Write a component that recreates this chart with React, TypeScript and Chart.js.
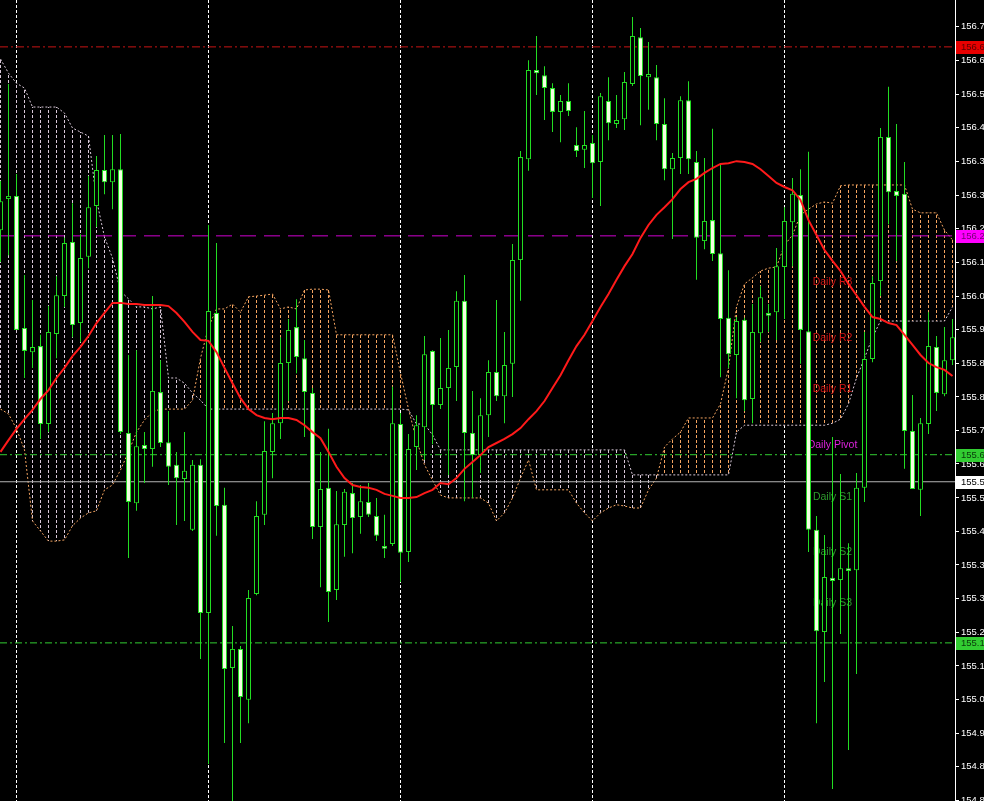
import { useEffect, useRef } from "react";
import { Chart, registerables } from "chart.js";
Chart.register(...registerables);

// ---------- DATA ----------
const candleOpen = [
  156.216, 156.293, 156.301, 155.974, 155.914, 155.929, 155.736, 155.959, 156.053, 156.187,
  155.986, 156.150, 156.276, 156.365, 156.335, 156.367, 155.714, 155.540, 155.684, 155.674,
  155.815, 155.691, 155.635, 155.600, 155.474, 155.635, 155.268, 156.011, 155.536, 155.132,
  155.179, 155.053, 155.315, 155.511, 155.667, 155.738, 155.887, 155.976, 155.899, 155.813,
  155.481, 155.578, 155.325, 155.486, 155.565, 155.506, 155.543, 155.508, 155.434, 155.439,
  155.736, 155.419, 155.679, 155.728, 155.917, 155.783, 155.825, 155.877, 156.041, 155.714,
  155.659, 155.758, 155.865, 155.805, 155.885, 156.142, 156.392, 156.613, 156.600, 156.568,
  156.509, 156.536, 156.427, 156.415, 156.432, 156.385, 156.536, 156.479, 156.491, 156.578,
  156.694, 156.595, 156.595, 156.479, 156.367, 156.395, 156.538, 156.385, 156.189, 156.241,
  156.159, 155.999, 155.907, 155.994, 155.798, 155.961, 156.011, 156.013, 156.125, 156.236,
  156.303, 155.966, 155.474, 155.221, 155.355, 155.350, 155.379, 155.374, 155.578, 155.897,
  156.090, 156.447, 156.313, 156.306, 155.719, 155.573, 155.736, 155.927, 155.810, 155.894,
];
const candleHigh = [
  156.338, 156.578, 156.355, 156.105, 156.043, 155.957, 156.028, 156.102, 156.197, 156.283,
  156.206, 156.350, 156.400, 156.452, 156.452, 156.454, 155.907, 155.919, 155.716, 156.053,
  155.894, 155.768, 155.667, 155.716, 155.647, 155.649, 156.229, 156.184, 155.578, 155.236,
  155.186, 155.325, 155.545, 155.743, 155.763, 155.951, 155.996, 156.045, 155.944, 155.825,
  155.667, 155.724, 155.570, 155.575, 155.590, 155.585, 155.590, 155.553, 155.511, 155.828,
  155.763, 155.711, 155.758, 155.954, 155.919, 155.949, 155.969, 156.065, 156.105, 155.818,
  155.800, 155.894, 156.043, 155.964, 156.182, 156.412, 156.637, 156.697, 156.622, 156.580,
  156.551, 156.580, 156.471, 156.511, 156.452, 156.556, 156.595, 156.551, 156.608, 156.744,
  156.717, 156.682, 156.625, 156.543, 156.407, 156.548, 156.585, 156.412, 156.395, 156.467,
  156.382, 156.117, 156.001, 155.999, 156.033, 156.078, 156.033, 156.172, 156.273, 156.345,
  156.367, 156.410, 155.508, 155.461, 155.704, 155.612, 155.441, 155.615, 155.964, 156.102,
  156.469, 156.571, 156.479, 156.385, 155.808, 155.751, 156.013, 155.954, 155.976, 155.996,
];
const candleLow = [
  156.137, 156.154, 155.969, 155.850, 155.875, 155.699, 155.716, 155.899, 156.026, 155.951,
  155.939, 156.122, 156.224, 156.305, 156.268, 155.711, 155.404, 155.521, 155.590, 155.630,
  155.679, 155.585, 155.486, 155.496, 155.471, 155.154, 154.894, 155.459, 154.946, 154.802,
  154.946, 154.995, 155.312, 155.486, 155.602, 155.699, 155.793, 155.862, 155.704, 155.451,
  155.332, 155.246, 155.300, 155.407, 155.416, 155.464, 155.506, 155.446, 155.404, 155.434,
  155.345, 155.394, 155.622, 155.647, 155.686, 155.773, 155.610, 155.793, 155.545, 155.553,
  155.615, 155.704, 155.793, 155.738, 155.803, 156.041, 156.363, 156.551, 156.489, 156.459,
  156.434, 156.499, 156.397, 156.370, 156.296, 156.276, 156.439, 156.469, 156.464, 156.573,
  156.476, 156.514, 156.439, 156.340, 156.194, 156.355, 156.355, 156.093, 156.169, 156.140,
  155.852, 155.875, 155.800, 155.768, 155.738, 155.939, 155.964, 155.944, 155.996, 156.127,
  155.885, 155.419, 154.995, 155.097, 154.832, 155.216, 154.929, 155.117, 155.543, 155.889,
  156.053, 156.231, 156.140, 155.625, 155.575, 155.508, 155.711, 155.768, 155.805, 155.882,
];
const candleClose = [
  156.288, 156.301, 155.969, 155.917, 155.927, 155.736, 155.964, 156.055, 156.184, 155.981,
  156.147, 156.273, 156.365, 156.335, 156.367, 155.716, 155.543, 155.681, 155.674, 155.818,
  155.689, 155.630, 155.602, 155.620, 155.635, 155.268, 156.016, 155.533, 155.129, 155.179,
  155.060, 155.305, 155.508, 155.669, 155.738, 155.887, 155.969, 155.902, 155.815, 155.481,
  155.575, 155.320, 155.488, 155.568, 155.503, 155.545, 155.511, 155.459, 155.427, 155.738,
  155.417, 155.674, 155.733, 155.909, 155.783, 155.825, 155.875, 156.041, 155.714, 155.659,
  155.758, 155.865, 155.805, 155.882, 156.142, 156.397, 156.613, 156.605, 156.568, 156.509,
  156.536, 156.511, 156.412, 156.427, 156.382, 156.548, 156.481, 156.489, 156.583, 156.697,
  156.598, 156.603, 156.479, 156.367, 156.395, 156.538, 156.392, 156.197, 156.239, 156.157,
  155.996, 155.909, 155.991, 155.795, 155.964, 156.050, 156.004, 156.127, 156.239, 156.306,
  155.969, 155.474, 155.223, 155.357, 155.347, 155.379, 155.372, 155.578, 155.897, 156.085,
  156.447, 156.310, 156.301, 155.719, 155.575, 155.738, 155.929, 155.813, 155.894, 155.951,
];
const movingAverage = [
  155.667, 155.696, 155.724, 155.748, 155.771, 155.798, 155.820, 155.850, 155.875, 155.904,
  155.927, 155.954, 155.986, 156.011, 156.036, 156.036, 156.033, 156.033, 156.031, 156.031,
  156.031, 156.028, 156.011, 155.989, 155.964, 155.944, 155.942, 155.914, 155.875, 155.837,
  155.800, 155.773, 155.758, 155.751, 155.748, 155.751, 155.751, 155.746, 155.733, 155.716,
  155.701, 155.667, 155.630, 155.602, 155.585, 155.580, 155.578, 155.573, 155.563, 155.558,
  155.553, 155.553, 155.555, 155.565, 155.573, 155.590, 155.587, 155.602, 155.625, 155.642,
  155.659, 155.679, 155.689, 155.699, 155.711, 155.726, 155.748, 155.768, 155.793, 155.825,
  155.857, 155.894, 155.929, 155.957, 155.991, 156.026, 156.058, 156.093, 156.127, 156.157,
  156.197, 156.229, 156.254, 156.273, 156.293, 156.318, 156.335, 156.343, 156.358, 156.370,
  156.380, 156.382, 156.387, 156.385, 156.380, 156.367, 156.350, 156.333, 156.323, 156.315,
  156.291, 156.241, 156.204, 156.167, 156.140, 156.115, 156.083, 156.055, 156.026, 156.001,
  155.996, 155.986, 155.981, 155.957, 155.932, 155.907, 155.887, 155.877, 155.870, 155.855,
];
const senkouA = [
  155.773, 155.761, 155.724, 155.672, 155.496, 155.471, 155.446, 155.446, 155.449, 155.484,
  155.503, 155.516, 155.521, 155.573, 155.585, 155.622, 155.667, 155.716, 155.746, 155.766,
  155.773, 155.773, 155.773, 155.773, 155.795, 155.899, 155.976, 156.021, 156.021, 156.033,
  156.013, 156.051, 156.053, 156.055, 156.058, 156.021, 156.026, 156.021, 156.068, 156.070,
  156.070, 156.068, 155.957, 155.957, 155.957, 155.957, 155.957, 155.957, 155.957, 155.957,
  155.862, 155.773, 155.696, 155.635, 155.597, 155.560, 155.553, 155.553, 155.553, 155.553,
  155.553, 155.540, 155.496, 155.516, 155.553, 155.602, 155.647, 155.573, 155.573, 155.573,
  155.573, 155.573, 155.540, 155.516, 155.496, 155.516, 155.528, 155.536, 155.533, 155.528,
  155.528, 155.573, 155.602, 155.679, 155.699, 155.716, 155.751, 155.751, 155.751, 155.751,
  155.786, 155.875, 156.026, 156.083, 156.098, 156.115, 156.122, 156.125, 156.179, 156.204,
  156.254, 156.268, 156.281, 156.286, 156.283, 156.326, 156.328, 156.328, 156.328, 156.328,
  156.328, 156.328, 156.328, 156.328, 156.268, 156.259, 156.259, 156.259, 156.216, 156.192,
];
const senkouB = [
  156.640, 156.605, 156.580, 156.568, 156.521, 156.521, 156.521, 156.521, 156.506, 156.469,
  156.459, 156.449, 156.291, 156.199, 156.147, 156.065, 156.046, 156.026, 156.026, 156.021,
  156.026, 155.850, 155.850, 155.837, 155.813, 155.795, 155.773, 155.773, 155.773, 155.773,
  155.773, 155.773, 155.773, 155.773, 155.773, 155.773, 155.773, 155.773, 155.773, 155.773,
  155.773, 155.773, 155.773, 155.773, 155.773, 155.773, 155.773, 155.773, 155.773, 155.773,
  155.773, 155.771, 155.736, 155.736, 155.709, 155.672, 155.672, 155.672, 155.672, 155.672,
  155.672, 155.672, 155.672, 155.672, 155.672, 155.672, 155.672, 155.672, 155.672, 155.672,
  155.672, 155.672, 155.672, 155.672, 155.672, 155.672, 155.672, 155.672, 155.672, 155.610,
  155.610, 155.610, 155.610, 155.610, 155.610, 155.610, 155.610, 155.610, 155.610, 155.610,
  155.610, 155.610, 155.716, 155.733, 155.733, 155.733, 155.733, 155.733, 155.733, 155.733,
  155.733, 155.733, 155.733, 155.733, 155.738, 155.748, 155.786, 155.850, 155.899, 155.951,
  155.991, 155.991, 155.991, 155.991, 155.991, 155.991, 155.991, 155.991, 155.991, 156.026,
];
const yTickValues = [
  156.720, 156.637, 156.553, 156.470, 156.387, 156.303, 156.220, 156.137, 156.053, 155.970,
  155.887, 155.803, 155.720, 155.637, 155.553, 155.470, 155.387, 155.303, 155.220, 155.137,
  155.053, 154.970, 154.887, 154.803,
];
const gridBars = [2, 26, 50, 74, 98];
const levelPrices = [156.670, 156.202, 155.660, 155.593, 155.194];
const levelColors = ["#c81414", "#d000d0", "#32cd32", "#b4b4b4", "#32cd32"];
const levelDashes = [[8, 3, 2, 3], [16, 8], [7, 3, 2, 3], [], [7, 3, 2, 3]];
const levelBoxBg = ["#e80000", "#ff00ff", "#32cd32", "#ffffff", "#32cd32"];
const levelBoxText = ["#5a0000", "#700070", "#0a3a0a", "#000000", "#0a3a0a"];
const pivotNames = ["Daily R3", "Daily R2", "Daily R1", "Daily Pivot", "Daily S1", "Daily S2", "Daily S3"];
const pivotPrices = [156.088, 155.949, 155.823, 155.684, 155.555, 155.419, 155.293];
const pivotColors = ["#d41414", "#d41414", "#d41414", "#dd22dd", "#2e9a2e", "#2e9a2e", "#2e9a2e"];
const pivotLabelBar = 104;

const X_MIN = -0.0625;
const X_MAX = 119.3125;
const Y_MIN = 154.8024;
const Y_MAX = 156.7861;
const GREEN = "#22dd22";

export default function App() {
  const ref = useRef<HTMLCanvasElement>(null);

  useEffect(() => {
    const canvas = ref.current!;
    const ctx2d = canvas.getContext("2d")!;
    const makePattern = (color: string) => {
      const c = document.createElement("canvas");
      c.width = 1;
      c.height = 5;
      const g = c.getContext("2d")!;
      g.fillStyle = color;
      g.fillRect(0, 0, 1, 3);
      return ctx2d.createPattern(c, "repeat")!;
    };
    const peach = makePattern("#f4a460");
    const thistle = makePattern("#d8c8d8");

    const idx = candleOpen.map((_, k) => k);

    const levelSets: any[] = levelPrices.map((v, i) => ({
      type: "line",
      data: [{ x: X_MIN, y: v }, { x: X_MAX, y: v }],
      borderColor: levelColors[i],
      borderWidth: 1,
      borderDash: levelDashes[i],
      pointRadius: 0,
      order: 8,
    }));

    const datasets: any[] = [
      {
        type: "bar",
        data: idx.map((k) => ({ x: k, y: [senkouA[k], senkouB[k]] })),
        backgroundColor: (c: any) => {
          const k = c.dataIndex ?? 0;
          return senkouA[k] > senkouB[k] ? peach : thistle;
        },
        borderWidth: 0,
        barThickness: 1,
        grouped: false,
        inflateAmount: 0,
        order: 10,
      },
      {
        type: "line",
        data: idx.map((k) => ({ x: k, y: senkouA[k] })),
        borderColor: "#f4a460",
        borderWidth: 1,
        borderDash: [2, 2],
        pointRadius: 0,
        tension: 0,
        order: 9,
      },
      {
        type: "line",
        data: idx.map((k) => ({ x: k, y: senkouB[k] })),
        borderColor: "#d8c8d8",
        borderWidth: 1,
        borderDash: [2, 2],
        pointRadius: 0,
        tension: 0,
        order: 9,
      },
      ...levelSets,
      {
        type: "bar",
        data: idx.map((k) => ({ x: k, y: [candleLow[k], candleHigh[k]] })),
        backgroundColor: GREEN,
        borderWidth: 0,
        barThickness: 1,
        grouped: false,
        inflateAmount: 0,
        order: 3,
      },
      {
        type: "bar",
        data: idx.map((k) => ({ x: k, y: [candleOpen[k], candleClose[k]] })),
        backgroundColor: (c: any) => {
          const k = c.dataIndex ?? 0;
          return candleClose[k] < candleOpen[k] ? "#f4ffe2" : "#000000";
        },
        borderColor: GREEN,
        borderWidth: 1,
        borderSkipped: false,
        barThickness: 5,
        grouped: false,
        inflateAmount: 0,
        order: 2,
      },
      {
        type: "line",
        data: idx.map((k) => ({ x: k, y: movingAverage[k] })),
        borderColor: "#ff1a1a",
        borderWidth: 2,
        pointRadius: 0,
        tension: 0,
        order: 1,
      },
    ];

    const spanBIndex = 2;

    const overlay = {
      id: "mtOverlay",
      afterDatasetDraw(chart: any, args: any) {
        if (args.index !== spanBIndex) return;
        const { ctx, scales } = chart;
        ctx.save();
        ctx.font = "10.5px 'Liberation Sans', Arial, sans-serif";
        ctx.textAlign = "center";
        ctx.textBaseline = "middle";
        const x = scales.x.getPixelForValue(pivotLabelBar);
        pivotNames.forEach((name, i) => {
          ctx.fillStyle = pivotColors[i];
          ctx.fillText(name, x, scales.y.getPixelForValue(pivotPrices[i]));
        });
        ctx.restore();
      },
      afterDraw(chart: any) {
        const { ctx, scales, chartArea } = chart;
        ctx.save();
        ctx.font = "9.5px 'Liberation Sans', Arial, sans-serif";
        ctx.textAlign = "left";
        ctx.textBaseline = "middle";
        levelPrices.forEach((v, i) => {
          const y = Math.round(scales.y.getPixelForValue(v));
          ctx.fillStyle = levelBoxBg[i];
          ctx.fillRect(chartArea.right + 1, y - 6, 40, 13);
          ctx.fillStyle = levelBoxText[i];
          ctx.fillText(v.toFixed(3), chartArea.right + 6, y + 0.5);
        });
        ctx.restore();
      },
    };

    const chart = new Chart(canvas, {
      type: "bar",
      data: { datasets },
      options: {
        animation: false,
        responsive: false,
        events: [],
        layout: { padding: 0 },
        plugins: { legend: { display: false }, tooltip: { enabled: false } },
        scales: {
          x: {
            type: "linear",
            min: X_MIN,
            max: X_MAX,
            offset: false,
            position: "bottom",
            afterBuildTicks: (s: any) => {
              s.ticks = gridBars.map((v) => ({ value: v }));
            },
            afterFit: (s: any) => {
              s.height = 0;
              s.paddingLeft = 0;
              s.paddingRight = 0;
            },
            ticks: { display: false },
            grid: { color: "#ffffff", lineWidth: 1, drawTicks: false, offset: false },
            border: { display: false, dash: [3, 2] },
          },
          y: {
            type: "linear",
            position: "right",
            min: Y_MIN,
            max: Y_MAX,
            beginAtZero: false,
            afterBuildTicks: (s: any) => {
              s.ticks = yTickValues.map((v) => ({ value: v }));
            },
            afterFit: (s: any) => {
              s.width = 29;
              s.paddingTop = 0;
              s.paddingBottom = 0;
            },
            ticks: {
              color: "#ffffff",
              autoSkip: false,
              padding: 2,
              font: { family: "'Liberation Sans', Arial, sans-serif", size: 9.5 },
              callback: (v: any) => Number(v).toFixed(3),
            },
            grid: { drawOnChartArea: false, drawTicks: true, tickLength: 4, color: "#ffffff" },
            border: { display: true, color: "#ffffff", width: 1 },
          },
        },
      } as any,
      plugins: [overlay],
    } as any);

    return () => chart.destroy();
  }, []);

  return (
    <div style={{ position: "absolute", left: 0, top: 0, width: 984, height: 801, background: "#000", overflow: "hidden" }}>
      <canvas ref={ref} width={984} height={801} style={{ display: "block" }} />
    </div>
  );
}
